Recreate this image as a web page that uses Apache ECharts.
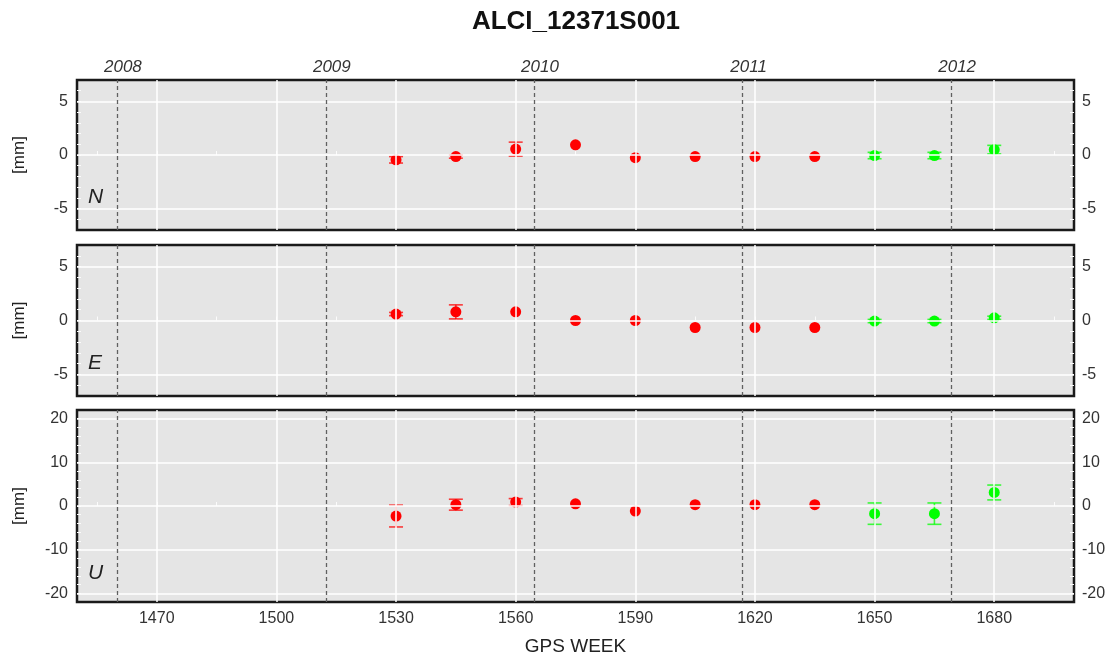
<!DOCTYPE html>
<html>
<head>
<meta charset="utf-8">
<script src="https://cdn.jsdelivr.net/npm/echarts@6/dist/echarts.min.js"></script>
<style>html,body{margin:0;padding:0;background:#fff}#c{width:1114px;height:657px}</style>
</head>
<body>
<div id="c"></div>
<script>
// ---- data ----
const titleText = 'ALCI_12371S001';
const panelNames = ['N', 'E', 'U'];
const weekTicks = [1470, 1500, 1530, 1560, 1590, 1620, 1650, 1680];
const weekMinorTicks = [1455, 1470, 1485, 1500, 1515, 1530, 1545, 1560, 1575, 1590, 1605, 1620, 1635, 1650, 1665, 1680, 1695];
const yearLabels = ['2008', '2009', '2010', '2011', '2012'];
const yearWeeks = [1460.0, 1512.4, 1564.6, 1616.9, 1669.2];
const nTicks = [-5, 0, 5];
const eTicks = [-5, 0, 5];
const uTicks = [-20, -10, 0, 10, 20];
const neMinor = [-6, -5, -4, -3, -2, -1, 0, 1, 2, 3, 4, 5, 6];
const uMinor = [-20, -18, -16, -14, -12, -10, -8, -6, -4, -2, 0, 2, 4, 6, 8, 10, 12, 14, 16, 18, 20];

// red solutions (0 = no visible error bar)
const weeksRed = [1530, 1545, 1560, 1575, 1590, 1605, 1620, 1635];
const nRed     = [-0.45, -0.15, 0.55, 0.95, -0.25, -0.15, -0.15, -0.15];
const nRedErr  = [0.3, 0.15, 0.65, 0, 0, 0, 0, 0];
const eRed     = [0.6, 0.8, 0.8, 0.0, 0.0, -0.65, -0.65, -0.65];
const eRedErr  = [0.15, 0.65, 0, 0, 0, 0, 0, 0];
const uRed     = [-2.3, 0.3, 0.9, 0.5, -1.15, 0.3, 0.3, 0.3];
const uRedErr  = [2.5, 1.25, 0.8, 0, 0, 0, 0, 0];
// green solutions
const weeksGreen = [1650, 1665, 1680];
const nGreen     = [-0.05, -0.05, 0.5];
const nGreenErr  = [0.3, 0.3, 0.4];
const eGreen     = [-0.05, -0.05, 0.25];
const eGreenErr  = [0.15, 0.15, 0.15];
const uGreen     = [-1.75, -1.75, 3.1];
const uGreenErr  = [2.45, 2.45, 1.7];

// ---- chart ----
const FONT = 'Liberation Sans, Arial, sans-serif';
const RED = '#ff0000', GREEN = '#00ff00';
const xMin = 1450, xMax = 1700;
const grids = [
  {top: 80, height: 150, ymin: -7, ymax: 7, ticks: nTicks, minor: neMinor},
  {top: 245, height: 151, ymin: -7, ymax: 7, ticks: eTicks, minor: neMinor},
  {top: 410, height: 196, ymin: -22, ymax: 22, ticks: uTicks, minor: uMinor}
];
const redVals = [[nRed, nRedErr], [eRed, eRedErr], [uRed, uRedErr]];
const greenVals = [[nGreen, nGreenErr], [eGreen, eGreenErr], [uGreen, uGreenErr]];

function zip(ws, vs, es) { return ws.map((w, i) => [w, vs[i], es[i]]); }
const plain = v => String(v);

function errRender(params, api) {
  const x = api.value(0), y = api.value(1), e = api.value(2);
  if (!(e > 0)) return {type: 'group', children: []};
  const t = api.coord([x, y + e]), b = api.coord([x, y - e]);
  const hw = 7;
  const style = {stroke: api.visual('color'), lineWidth: 1.6, opacity: 0.75};
  return {type: 'group', children: [
    {type: 'line', shape: {x1: t[0], y1: t[1], x2: b[0], y2: b[1]}, style: style},
    {type: 'line', shape: {x1: t[0] - hw, y1: t[1], x2: t[0] + hw, y2: t[1]}, style: style},
    {type: 'line', shape: {x1: b[0] - hw, y1: b[1], x2: b[0] + hw, y2: b[1]}, style: style}
  ]};
}

const option = {
  backgroundColor: '#ffffff',
  animation: false,
  grid: grids.map(g => ({
    left: 77, right: 40, top: g.top, height: g.height, show: true,
    backgroundColor: '#e5e5e5', borderColor: '#1a1a1a', borderWidth: 2.5
  })),
  xAxis: grids.map((g, i) => ({
    type: 'value', gridIndex: i, min: xMin, max: xMax,
    splitLine: {show: false}, axisLine: {show: false},
    axisTick: {show: true, inside: true, length: 4, customValues: weekMinorTicks, lineStyle: {color: '#fbfbfb', width: 1}},
    axisLabel: {show: i === 2, customValues: weekTicks, formatter: plain, fontSize: 16, color: '#333', margin: 9, fontFamily: FONT},
    name: i === 2 ? 'GPS WEEK' : '', nameLocation: 'middle', nameGap: 35,
    nameTextStyle: {fontSize: 19, color: '#222', fontFamily: FONT}
  })),
  yAxis: [].concat(...grids.map((g, i) => [
    {
      type: 'value', gridIndex: i, position: 'left', min: g.ymin, max: g.ymax,
      splitLine: {show: false}, axisLine: {show: false},
      axisTick: {show: true, inside: true, length: 4, customValues: g.minor, lineStyle: {color: '#fbfbfb'}},
      axisLabel: {customValues: g.ticks, formatter: plain, fontSize: 16, color: '#333', margin: 9, fontFamily: FONT},
      name: '[mm]', nameLocation: 'middle', nameGap: 49, nameRotate: 90,
      nameTextStyle: {fontSize: 17, color: '#222', fontFamily: FONT}
    },
    {
      type: 'value', gridIndex: i, position: 'right', min: g.ymin, max: g.ymax,
      splitLine: {show: false}, axisLine: {show: false},
      axisTick: {show: true, inside: true, length: 4, customValues: g.minor, lineStyle: {color: '#fbfbfb'}},
      axisLabel: {customValues: g.ticks, formatter: plain, fontSize: 16, color: '#333', margin: 8, fontFamily: FONT}
    }
  ])),
  series: [].concat(...grids.map((g, i) => [
    { // white grid lines
      type: 'scatter', xAxisIndex: i, yAxisIndex: 2 * i, data: [], silent: true, z: 1,
      markLine: {
        silent: true, symbol: 'none', animation: false,
        label: {show: false},
        lineStyle: {color: '#ffffff', width: 1.5, type: 'solid'},
        data: weekTicks.map(w => ({xAxis: w})).concat(g.ticks.map(v => ({yAxis: v})))
      }
    },
    { // year lines
      type: 'scatter', xAxisIndex: i, yAxisIndex: 2 * i, data: [], silent: true, z: 2,
      markLine: {
        silent: true, symbol: 'none', animation: false,
        lineStyle: {color: '#606060', width: 1.3, type: [4, 3]},
        label: {show: i === 0, position: 'end', distance: 4, offset: [6, 0], fontSize: 17, fontStyle: 'italic',
                color: '#333', fontFamily: FONT},
        data: yearWeeks.map((w, k) => ({xAxis: w, label: {formatter: yearLabels[k]}}))
      }
    },
    {
      type: 'custom', xAxisIndex: i, yAxisIndex: 2 * i, z: 3, renderItem: errRender,
      itemStyle: {color: RED}, data: zip(weeksRed, redVals[i][0], redVals[i][1])
    },
    {
      type: 'custom', xAxisIndex: i, yAxisIndex: 2 * i, z: 3, renderItem: errRender,
      itemStyle: {color: GREEN}, data: zip(weeksGreen, greenVals[i][0], greenVals[i][1])
    },
    {
      type: 'scatter', xAxisIndex: i, yAxisIndex: 2 * i, z: 4, symbolSize: 11,
      itemStyle: {color: RED, opacity: 1}, data: zip(weeksRed, redVals[i][0], redVals[i][1])
    },
    {
      type: 'scatter', xAxisIndex: i, yAxisIndex: 2 * i, z: 4, symbolSize: 11,
      itemStyle: {color: GREEN, opacity: 1}, data: zip(weeksGreen, greenVals[i][0], greenVals[i][1])
    }
  ])),
  graphic: [
    {type: 'text', x: 576, y: 22, style: {text: titleText, font: 'bold 26px ' + FONT, fill: '#111',
      textAlign: 'center', textVerticalAlign: 'middle'}},
  ].concat(panelNames.map((p, i) => ({
    type: 'text', x: 88, y: grids[i].top + grids[i].height - 33,
    style: {text: p, font: 'italic 21px ' + FONT, fill: '#222', textAlign: 'left', textVerticalAlign: 'middle'}
  })))
};

const chart = echarts.init(document.getElementById('c'), null, {renderer: 'canvas'});
chart.setOption(option);
</script>
</body>
</html>
